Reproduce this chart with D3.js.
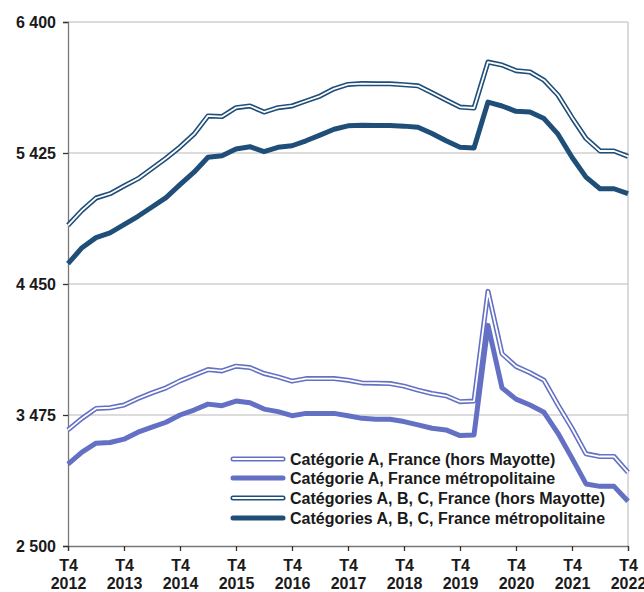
<!DOCTYPE html>
<html>
<head>
<meta charset="utf-8">
<script src="https://cdn.jsdelivr.net/npm/d3@7"></script>
<style>
  body { margin: 0; background: #fff; }
  text { font-family: "Liberation Sans", Arial, sans-serif; font-weight: bold; fill: #1a1a1a; }
</style>
</head>
<body>
<script>
// quarters T4 2012 .. T4 2022 (41 points)
var years = [2012, 2013, 2014, 2015, 2016, 2017, 2018, 2019, 2020, 2021, 2022];
var yTicks = [2500, 3475, 4450, 5425, 6400];

var catAFrance = [3364, 3450, 3524, 3529, 3549, 3598, 3640, 3677, 3729, 3771,
  3813, 3803, 3838, 3828, 3784, 3759, 3727, 3746, 3746, 3746,
  3734, 3714, 3712, 3709, 3690, 3660, 3635, 3618, 3574, 3579,
  4395, 3931, 3837, 3790, 3734, 3549, 3376, 3186, 3166, 3166, 3048];

var catAMetro = [3110, 3199, 3265, 3270, 3295, 3347, 3384, 3421, 3475, 3512,
  3556, 3544, 3579, 3566, 3519, 3500, 3470, 3487, 3487, 3487,
  3470, 3450, 3444, 3443, 3426, 3401, 3376, 3364, 3322, 3327,
  4142, 3677, 3593, 3549, 3495, 3339, 3154, 2962, 2944, 2944, 2833];

var catABCFrance = [4887, 4998, 5090, 5122, 5179, 5234, 5310, 5386, 5470, 5565,
  5701, 5696, 5762, 5775, 5730, 5762, 5775, 5812, 5849, 5903,
  5935, 5942, 5940, 5940, 5933, 5925, 5873, 5819, 5767, 5760,
  6102, 6080, 6038, 6028, 5967, 5856, 5689, 5533, 5440, 5440, 5400];

var catABCMetro = [4601, 4720, 4795, 4830, 4892, 4954, 5023, 5093, 5189, 5282,
  5393, 5405, 5455, 5472, 5435, 5467, 5479, 5516, 5558, 5602,
  5627, 5632, 5629, 5629, 5625, 5617, 5570, 5516, 5467, 5462,
  5804, 5775, 5735, 5730, 5681, 5565, 5393, 5245, 5159, 5159, 5122];

var light = "#6470c4", dark = "#1f4e79";

var series = [
  { name: "Catégorie A, France (hors Mayotte)", values: catAFrance, color: light, hollow: true },
  { name: "Catégorie A, France métropolitaine", values: catAMetro, color: light, hollow: false },
  { name: "Catégories A, B, C, France (hors Mayotte)", values: catABCFrance, color: dark, hollow: true },
  { name: "Catégories A, B, C, France métropolitaine", values: catABCMetro, color: dark, hollow: false }
];

(function draw() {
  var w = 644, h = 592;
  var mLeft = 68, mRight = 628, mTop = 22, mBottom = 546;

  var svg = d3.select("body").append("svg").attr("width", w).attr("height", h);

  var x = d3.scaleLinear().domain([0, 40]).range([mLeft, mRight]);
  var y = d3.scaleLinear().domain([2500, 6400]).range([mBottom, mTop]);

  var fr = d3.formatLocale({ decimal: ",", thousands: " ", grouping: [3], currency: ["", " €"] });
  var fmt = fr.format(",d");

  // gridlines
  svg.append("g").selectAll("line").data(yTicks.slice(1)).enter().append("line")
    .attr("x1", mLeft).attr("x2", mRight)
    .attr("y1", function(d) { return y(d); }).attr("y2", function(d) { return y(d); })
    .attr("stroke", "#d0d0d0").attr("stroke-width", 1.3);

  // right border
  svg.append("line").attr("x1", mRight).attr("x2", mRight).attr("y1", mTop).attr("y2", mBottom)
    .attr("stroke", "#c8c8c8").attr("stroke-width", 1.3);

  // y axis
  var yAxis = d3.axisLeft(y).tickValues(yTicks).tickFormat(fmt).tickSize(5).tickPadding(7);
  var gy = svg.append("g").attr("transform", "translate(" + mLeft + ",0)").call(yAxis);
  gy.select(".domain").attr("stroke", "#777").attr("stroke-width", 1.3);
  gy.selectAll(".tick line").attr("stroke", "#333").attr("stroke-width", 1.3);
  gy.selectAll(".tick text").style("font-size", "16px").attr("fill", "#1a1a1a").attr("dy", "0.35em");

  // x axis
  var xAxis = d3.axisBottom(x).tickValues(d3.range(0, 41, 4)).tickSize(5).tickFormat("");
  var gx = svg.append("g").attr("transform", "translate(0," + mBottom + ")").call(xAxis);
  gx.select(".domain").attr("stroke", "#777").attr("stroke-width", 1.3);
  gx.selectAll(".tick line").attr("stroke", "#333").attr("stroke-width", 1.3);
  gx.selectAll(".tick").each(function(d, i) {
    var t = d3.select(this).append("text").attr("text-anchor", "middle").style("font-size", "16px");
    t.append("tspan").attr("x", 0).attr("y", 25).text("T4");
    t.append("tspan").attr("x", 0).attr("y", 43).text(years[i]);
  });

  var line = d3.line().x(function(d, i) { return x(i); }).y(function(d) { return y(d); });

  series.forEach(function(s) {
    var g = svg.append("g");
    g.append("path").attr("d", line(s.values)).attr("fill", "none")
      .attr("stroke", s.color).attr("stroke-width", 5).attr("stroke-linejoin", "round");
    if (s.hollow) {
      g.append("path").attr("d", line(s.values)).attr("fill", "none")
        .attr("stroke", "#fff").attr("stroke-width", 1.8).attr("stroke-linejoin", "round");
    }
  });

  // legend
  var legendY = [459, 478, 498, 518];
  var lg = svg.append("g");
  series.forEach(function(s, i) {
    var ly = legendY[i];
    lg.append("line").attr("x1", 233).attr("x2", 283).attr("y1", ly).attr("y2", ly)
      .attr("stroke", s.color).attr("stroke-width", 5).attr("stroke-linecap", "round");
    if (s.hollow) {
      lg.append("line").attr("x1", 233).attr("x2", 283).attr("y1", ly).attr("y2", ly)
        .attr("stroke", "#fff").attr("stroke-width", 1.8).attr("stroke-linecap", "round");
    }
    lg.append("text").attr("x", 290).attr("y", ly).attr("dy", "0.36em")
      .style("font-size", "16px").text(s.name);
  });
})();
</script>
</body>
</html>
